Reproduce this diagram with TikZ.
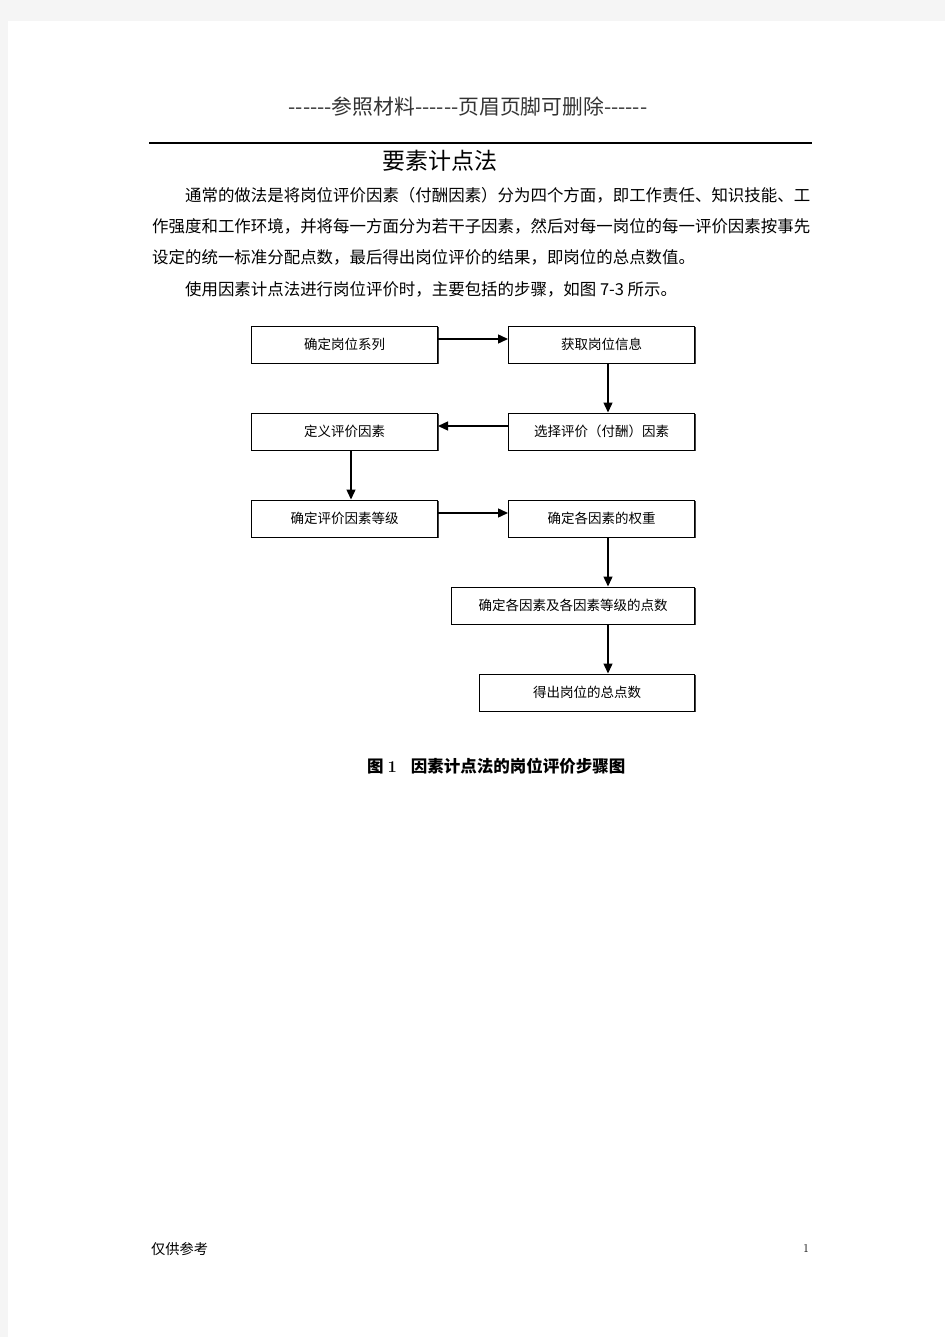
\documentclass[tikz,border=0pt]{standalone}
\usepackage{fontspec}
\newfontfamily\cjk{Noto Sans CJK SC}
\usetikzlibrary{arrows.meta,shadows}
\begin{document}
\begin{tikzpicture}[x=1pt,y=-1pt,
  stepbox/.style={draw=black, line width=1pt, fill=white, minimum height=37pt, inner sep=0pt,
    font=\cjk\fontsize{13.5}{16}\selectfont,
    drop shadow={shadow xshift=1.2pt, shadow yshift=-1.2pt, fill=black!75, opacity=1}},
  arr/.style={line width=1.4pt, -{Triangle[length=10pt,width=9pt]}},
  body/.style={anchor=west, inner sep=0pt, font=\cjk\fontsize{16.45}{20}\selectfont}]
\useasboundingbox (0,0) rectangle (945,1337);
\fill[black!4] (0,0) rectangle (945,1337);
\fill[white] (8,21) rectangle (945,1337);

% header
\node[font=\cjk\fontsize{20.8}{24}\selectfont, text=black!80, inner sep=0pt] (hdr) at (468,107) {------参照材料------页眉页脚可删除------};
\draw[line width=1.2pt] (149,143) -- (812,143);
\node[font=\cjk\fontsize{23}{26}\selectfont, inner sep=0pt] (title) at (440,161) {要素计点法};

% body
\node[body] (l1) at (184.9,195) {通常的做法是将岗位评价因素（付酬因素）分为四个方面，即工作责任、知识技能、工};
\node[body] (l2) at (152,226) {作强度和工作环境，并将每一方面分为若干子因素，然后对每一岗位的每一评价因素按事先};
\node[body] (l3) at (152,257) {设定的统一标准分配点数，最后得出岗位评价的结果，即岗位的总点数值。};
\node[body] (l4) at (184.9,289) {使用因素计点法进行岗位评价时，主要包括的步骤，如图 7-3 所示。};

% flowchart
\node[stepbox, minimum width=186pt] (b1) at (344.5,344.5) {确定岗位系列};
\node[stepbox, minimum width=186pt] (b2) at (601.5,344.5) {获取岗位信息};
\node[stepbox, minimum width=186pt] (b3) at (344.5,431.5) {定义评价因素};
\node[stepbox, minimum width=186pt] (b4) at (601.5,431.5) {选择评价（付酬）因素};
\node[stepbox, minimum width=186pt] (b5) at (344.5,518.5) {确定评价因素等级};
\node[stepbox, minimum width=186pt] (b6) at (601.5,518.5) {确定各因素的权重};
\node[stepbox, minimum width=243pt] (b7) at (573,605.5) {确定各因素及各因素等级的点数};
\node[stepbox, minimum width=215pt] (b8) at (587,692.5) {得出岗位的总点数};

\draw[arr] ([yshift=5.5pt]b1.east) -- ([yshift=5.5pt]b2.west);
\coordinate (v2) at ([xshift=6.5pt]b2.south);
\draw[arr] (v2) -- (v2 |- b4.north);
\draw[arr] ([yshift=5.5pt]b4.west) -- ([yshift=5.5pt]b3.east);
\coordinate (v3) at ([xshift=6.5pt]b3.south);
\draw[arr] (v3) -- (v3 |- b5.north);
\draw[arr] ([yshift=5.5pt]b5.east) -- ([yshift=5.5pt]b6.west);
\coordinate (v6) at ([xshift=6.5pt]b6.south);
\draw[arr] (v6) -- (v6 |- b7.north);
\draw[arr] (v6 |- b7.south) -- (v6 |- b8.north);

% caption
\node[anchor=west, inner sep=0pt, font=\cjk\bfseries\fontsize{16.5}{20}\selectfont] (cap) at (367,766) {图\hspace{4pt}{\rmfamily\bfseries 1}\hspace{14pt}因素计点法的岗位评价步骤图};

% footer
\node[anchor=west, inner sep=0pt, font=\cjk\fontsize{14.25}{16}\selectfont] (foot) at (151,1249) {仅供参考};
\node[inner sep=0pt, font=\fontsize{12}{14}\selectfont] (pg) at (806,1248) {1};
\end{tikzpicture}
\end{document}
